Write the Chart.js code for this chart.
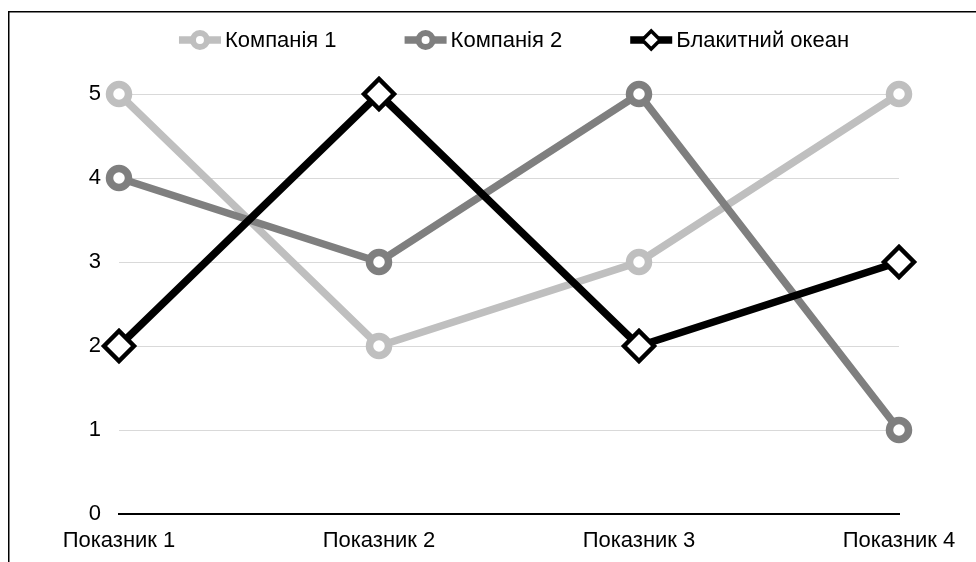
<!DOCTYPE html>
<html>
<head>
<meta charset="utf-8">
<script src="https://cdn.jsdelivr.net/npm/chart.js@4/dist/chart.umd.min.js"></script>
<style>
  html, body { margin: 0; padding: 0; background: #fff; }
  #wrap { position: relative; width: 976px; height: 562px; }
</style>
</head>
<body>
<div id="wrap"><canvas id="c" width="976" height="562"></canvas></div>
<script>
const categories = ['Показник 1', 'Показник 2', 'Показник 3', 'Показник 4'];
const company1 = [5, 2, 3, 5];
const company2 = [4, 3, 5, 1];
const blueOcean = [2, 5, 2, 3];
const seriesNames = ['Компанія 1', 'Компанія 2', 'Блакитний океан'];
const yTicks = [0, 1, 2, 3, 4, 5];

const FONT = '"Liberation Sans", Arial, sans-serif';
const FONT_SIZE = 22;
const C1 = '#bfbfbf', C2 = '#7f7f7f', C3 = '#000000';

// Outer frame: left and top edges of the chart border
const framePlugin = {
  id: 'frame',
  afterDraw(chart) {
    const ctx = chart.ctx;
    ctx.save();
    ctx.strokeStyle = '#000';
    ctx.lineWidth = 1.5;
    ctx.beginPath();
    ctx.moveTo(8.75, 562);
    ctx.lineTo(8.75, 11.75);
    ctx.lineTo(976, 11.75);
    ctx.stroke();
    ctx.restore();
  }
};

// Legend with a line segment and its marker before every series name
const lineLegend = {
  id: 'lineLegend',
  afterDraw(chart) {
    const ctx = chart.ctx;
    ctx.save();
    ctx.font = FONT_SIZE + 'px ' + FONT;
    ctx.textBaseline = 'middle';
    const symW = 42, gapText = 4, gapItem = 68, cy = 40;
    const items = chart.data.datasets.map(ds => ({ ds, w: symW + gapText + ctx.measureText(ds.label).width }));
    const total = items.reduce((s, it) => s + it.w, 0) + gapItem * (items.length - 1);
    let x = 514 - total / 2;
    items.forEach(({ ds }) => {
      const color = ds.borderColor;
      ctx.strokeStyle = color;
      ctx.lineWidth = 7.5;
      ctx.lineCap = 'butt';
      ctx.beginPath();
      ctx.moveTo(x, cy);
      ctx.lineTo(x + symW, cy);
      ctx.stroke();
      const mx = x + symW / 2;
      ctx.fillStyle = '#fff';
      ctx.beginPath();
      if (ds.pointStyle === 'rectRot') {
        const r = 9;
        ctx.moveTo(mx - r, cy); ctx.lineTo(mx, cy - r); ctx.lineTo(mx + r, cy); ctx.lineTo(mx, cy + r);
        ctx.closePath();
        ctx.fill();
        ctx.lineWidth = 3.5;
        ctx.strokeStyle = color;
        ctx.stroke();
      } else {
        ctx.arc(mx, cy, 7, 0, Math.PI * 2);
        ctx.fill();
        ctx.lineWidth = 6;
        ctx.strokeStyle = color;
        ctx.stroke();
      }
      ctx.fillStyle = '#000';
      ctx.textAlign = 'left';
      ctx.fillText(ds.label, x + symW + gapText, cy + 1);
      x += symW + gapText + ctx.measureText(ds.label).width + gapItem;
    });
    ctx.restore();
  }
};

const circleSeries = (label, data, color, order) => ({
  label, data, order,
  borderColor: color,
  backgroundColor: '#fff',
  borderWidth: 7.5,
  pointStyle: 'circle',
  pointRadius: 9.5,
  pointHoverRadius: 9.5,
  pointBorderWidth: 7.5,
  pointBackgroundColor: '#fff',
  pointBorderColor: color,
  tension: 0,
  clip: false
});

new Chart(document.getElementById('c'), {
  type: 'line',
  data: {
    labels: categories,
    datasets: [
      circleSeries(seriesNames[0], company1, C1, 2),
      circleSeries(seriesNames[1], company2, C2, 1),
      {
        label: seriesNames[2], data: blueOcean, order: 0,
        borderColor: C3,
        backgroundColor: '#fff',
        borderWidth: 7.5,
        pointStyle: 'rectRot',
        pointRadius: 15,
        pointHoverRadius: 15,
        pointBorderWidth: 4.5,
        pointBackgroundColor: '#fff',
        pointBorderColor: C3,
        tension: 0,
        clip: false
      }
    ]
  },
  options: {
    responsive: false,
    animation: false,
    events: [],
    layout: { padding: { left: 0, right: 77, top: 94, bottom: 0 } },
    plugins: { legend: { display: false }, tooltip: { enabled: false } },
    scales: {
      x: {
        type: 'category',
        offset: false,
        grid: { display: false, drawTicks: false },
        border: { display: true, color: '#000', width: 2 },
        ticks: { color: '#000', font: { family: FONT, size: FONT_SIZE }, padding: 14, maxRotation: 0, autoSkip: false },
        afterFit(s) { s.height = 48; }
      },
      y: {
        min: 0, max: 5,
        afterBuildTicks(s) { s.ticks = yTicks.map(v => ({ value: v })); },
        grid: {
          drawTicks: false,
          color: c => c.tick && c.tick.value === 0 ? 'rgba(0,0,0,0)' : '#d9d9d9',
          lineWidth: 1
        },
        border: { display: false },
        ticks: { color: '#000', font: { family: FONT, size: FONT_SIZE }, padding: 18 },
        afterFit(s) { s.width = 119; }
      }
    }
  },
  plugins: [framePlugin, lineLegend]
});
</script>
</body>
</html>
